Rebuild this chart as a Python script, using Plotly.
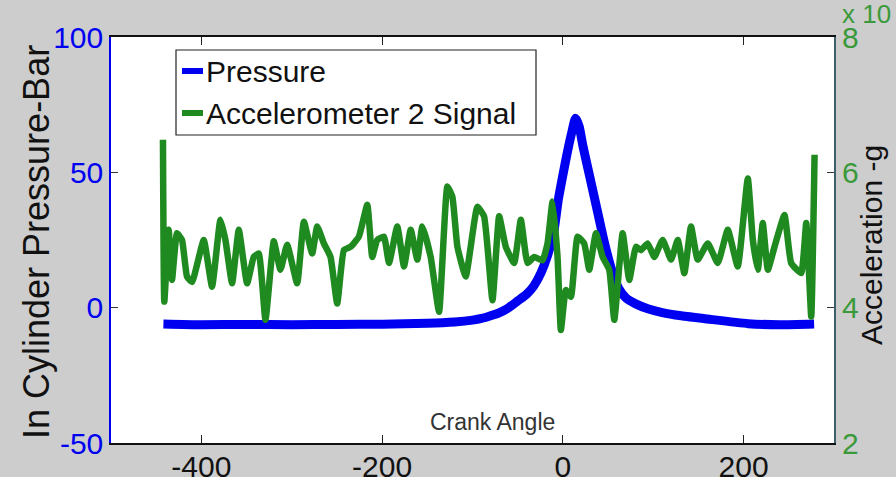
import plotly.graph_objects as go

# ---- data -------------------------------------------------------------
# In-cylinder pressure (bar) vs crank angle (deg)
pressure_angle = [-442, -400, -350, -300, -250, -200, -150, -120, -100, -90, -80, -70,
                  -60, -50, -40, -32, -24, -17, -10, -5, 0, 5, 10, 14, 18, 22, 30, 38,
                  46, 54, 62, 70, 80, 94, 110, 131, 160, 205, 240, 278]
pressure_bar = [-6, -6.3, -6.2, -6.3, -6.2, -6.1, -5.8, -5.3, -4.6, -4.0, -3.0, -1.8,
                0, 2.5, 5, 8.1, 13, 19.2, 28, 40, 49, 57.5, 65, 70, 67, 60, 48, 36,
                24, 14, 7, 3.5, 1.5, -0.4, -1.8, -3, -4.2, -5.9, -6.3, -6]

# Accelerometer 2 signal (x 10^n g) vs crank angle (deg)
accel_angle = [-442.5, -441, -436.2, -432.5, -427.0, -421.4, -415.9, -410.3, -397.4,
               -388.2, -378.9, -373.4, -366.0, -358.6, -349.4, -342.0, -336.5, -329.1,
               -319.9, -312.5, -305.1, -294.0, -286.6, -277.4, -271.8, -264.5, -257.1,
               -249.7, -242.3, -234.9, -225.7, -216.4, -210.9, -205.4, -198.0, -192.4,
               -183.2, -175.8, -168.4, -161.0, -155.5, -146.3, -137.0, -127.8, -122.3,
               -116.7, -107.5, -94.6, -87.2, -77.9, -70.5, -63.2, -53.9, -46.5, -39.1,
               -31.8, -22.5, -17.0, -11.4, -5.9, -2.2, 3.3, 8.9, 16.3, 23.6, 29.2, 36.6,
               44.0, 51.3, 56.9, 66.1, 73.5, 80.9, 86.4, 93.8, 101.2, 110.4, 119.7,
               127.1, 134.4, 141.8, 149.2, 160.3, 171.4, 182.5, 193.5, 204.6, 210.2,
               215.7, 221.2, 226.8, 234.2, 245.2, 252.6, 263.7, 269.3, 274.8, 278.5]
accel_g = [6.48, 4.09, 5.15, 4.41, 5.10, 5.00, 4.46, 4.38, 5.00,
           4.31, 5.30, 5.00, 4.36, 5.15, 4.36, 4.75, 4.80, 3.82,
           4.98, 4.56, 4.93, 4.36, 5.27, 4.80, 5.20, 4.95, 4.75,
           4.06, 4.85, 4.90, 5.05, 5.52, 4.75, 5.00, 5.05, 4.66,
           5.20, 4.61, 5.15, 4.71, 5.20, 4.75, 3.94, 5.79, 5.64,
           4.90, 4.46, 5.49, 5.35, 4.11, 5.35, 4.90, 4.66, 5.30, 4.66,
           4.75, 4.70, 4.95, 5.57, 4.75, 3.67, 4.26, 4.16, 5.05, 4.95, 4.56, 5.10,
           4.75, 4.56, 3.82, 5.10, 4.41, 4.90, 4.85, 4.95, 4.75, 5.00, 4.71,
           5.00, 4.51, 5.20, 4.71, 4.95, 4.66, 5.15, 4.61, 5.91, 5.00,
           4.56, 5.25, 4.56, 4.90, 5.37, 4.66, 4.51, 5.25, 3.87, 6.26]

x_ticks = [-400, -200, 0, 200]
x_tick_text = ["-400", "-200", "0", "200"]
left_ticks = [-50, 0, 50, 100]
left_tick_text = ["-50", "0", "50", "100"]
right_ticks = [2, 4, 6, 8]
right_tick_text = ["2", "4", "6", "8"]

# ---- styling ----------------------------------------------------------
W, H = 896, 477
PL, PR, PT, PB = 111, 834, 37, 443      # plot area in pixels
BLUE = "#0000f0"
GREEN = "#1f8a1f"
GREEN_TXT = "#3a9a3a"
FONT = "Liberation Sans, Arial, sans-serif"


def fx(px):
    return (px - PL) / (PR - PL)


def fy(py):
    return (PB - py) / (PB - PT)


fig = go.Figure()
fig.add_trace(go.Scatter(x=pressure_angle, y=pressure_bar, mode="lines",
                         line=dict(color=BLUE, width=9, shape="spline", smoothing=0.6),
                         name="Pressure", showlegend=False))
fig.add_trace(go.Scatter(x=accel_angle, y=accel_g, mode="lines", yaxis="y2",
                         line=dict(color=GREEN, width=6.5, shape="spline", smoothing=0.4),
                         name="Accelerometer 2 Signal", showlegend=False))

fig.update_layout(
    width=W, height=H,
    margin=dict(l=PL, r=W - PR, t=PT, b=H - PB, autoexpand=False),
    paper_bgcolor="#cdcdcd",
    plot_bgcolor="white",
    font=dict(family=FONT),
    xaxis=dict(range=[-500, 300], tickvals=x_ticks, ticktext=x_tick_text,
               showgrid=False, zeroline=False, automargin=False,
               showline=True, linecolor="#111", linewidth=2, mirror="ticks",
               ticks="inside", ticklen=8, tickcolor="#222", ticklabelstandoff=-4,
               tickfont=dict(size=30, color="#111")),
    yaxis=dict(range=[-50, 100], tickvals=left_ticks, ticktext=left_tick_text,
               showgrid=False, zeroline=False, automargin=False,
               showline=True, linecolor=BLUE, linewidth=1.5,
               ticks="inside", ticklen=7, tickcolor="#333",
               tickfont=dict(size=30, color=BLUE)),
    yaxis2=dict(range=[2, 8], tickvals=right_ticks, ticktext=right_tick_text,
                overlaying="y", side="right", automargin=False,
                showgrid=False, zeroline=False, showline=True, linecolor="#3f5d6d",
                linewidth=2, ticks="inside", ticklen=7, tickcolor="#333",
                tickfont=dict(size=30, color=GREEN_TXT)),
)

# legend box drawn by hand
shapes = [dict(type="rect", xref="paper", yref="paper",
               x0=fx(176), x1=fx(536), y0=fy(135), y1=fy(50),
               line=dict(color="#222", width=1.2), fillcolor="white"),
          dict(type="line", xref="paper", yref="paper",
               x0=fx(182), x1=fx(203), y0=fy(71), y1=fy(71),
               line=dict(color=BLUE, width=6)),
          dict(type="line", xref="paper", yref="paper",
               x0=fx(182), x1=fx(203), y0=fy(113), y1=fy(113),
               line=dict(color=GREEN, width=6))]
fig.update_layout(shapes=shapes)

annotations = [
    dict(text="Pressure", x=fx(204), y=fy(72), xanchor="left", yanchor="middle",
         font=dict(size=30, color="#111")),
    dict(text="Accelerometer 2 Signal", x=fx(204), y=fy(113), xanchor="left",
         yanchor="middle", font=dict(size=30, color="#111")),
    dict(text="Crank Angle", x=fx(492), y=fy(422), xanchor="center",
         yanchor="middle", font=dict(size=23, color="#333")),
    dict(text="In Cylinder Pressure-Bar", x=fx(36), y=fy(242), textangle=-90,
         xanchor="center", yanchor="middle", font=dict(size=36, color="#111")),
    dict(text="Acceleration -g", x=fx(871), y=fy(245), textangle=-90,
         xanchor="center", yanchor="middle", font=dict(size=30, color="#111")),
    dict(text="x 10", x=fx(840), y=fy(14), xanchor="left", yanchor="middle",
         font=dict(size=26, color=GREEN_TXT)),
]
for a in annotations:
    a.update(xref="paper", yref="paper", showarrow=False)
fig.update_layout(annotations=annotations)

fig.write_html("out.html")
